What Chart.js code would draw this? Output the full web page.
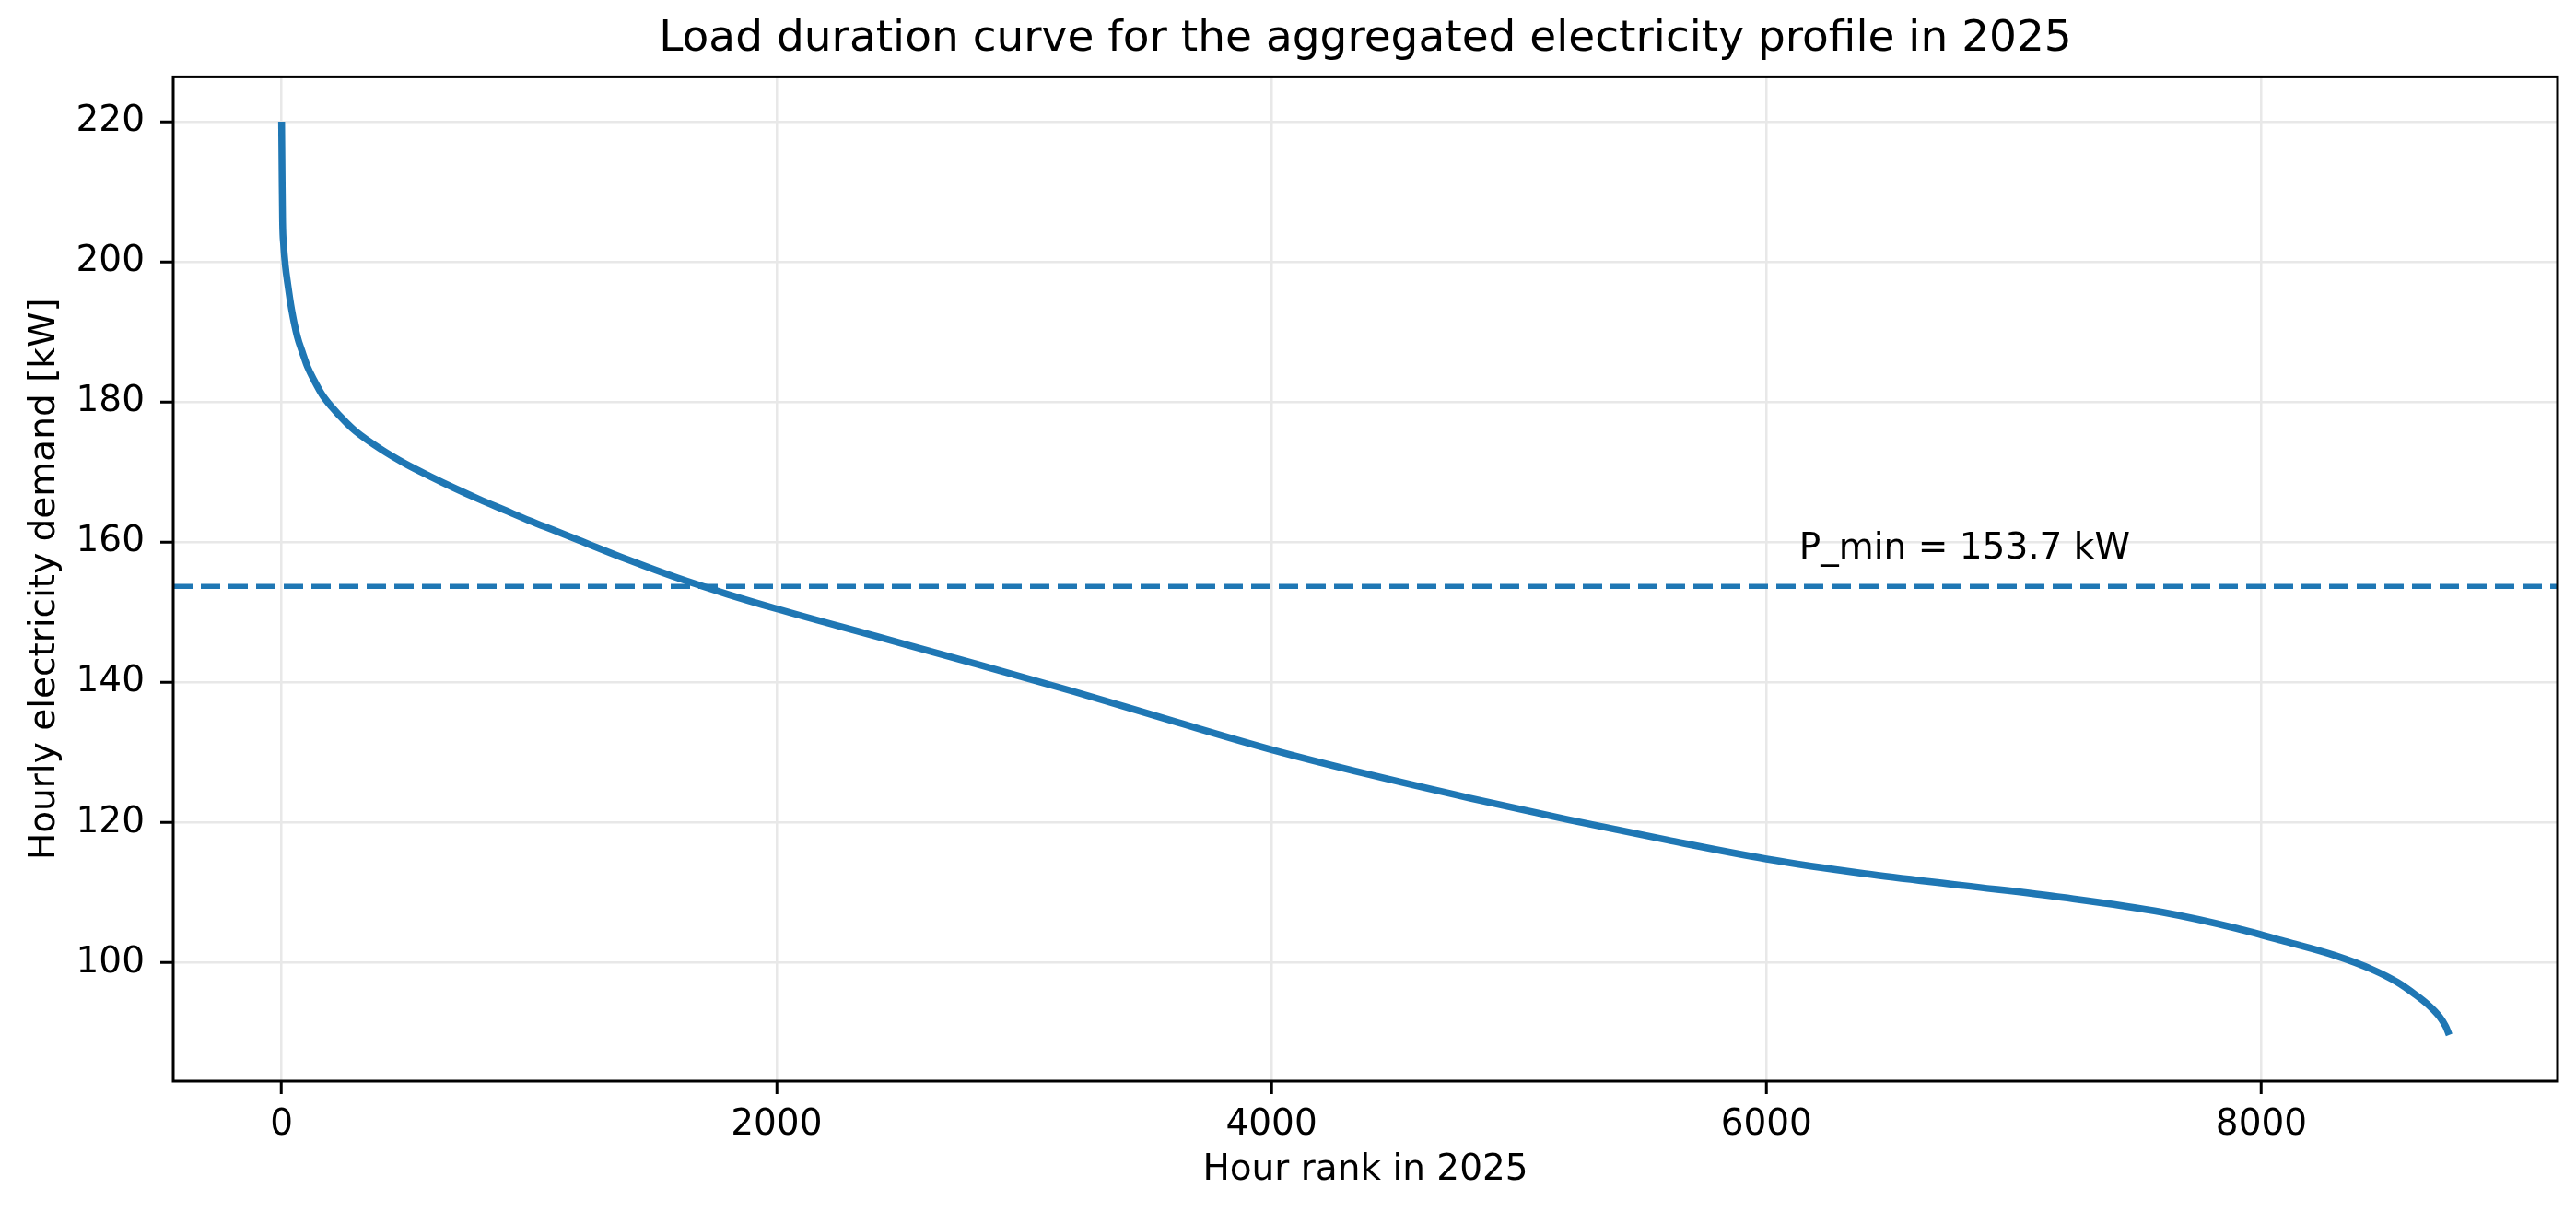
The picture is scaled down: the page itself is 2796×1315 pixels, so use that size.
<!DOCTYPE html>
<html lang="en">
<head>
<meta charset="UTF-8">
<title>Load duration curve</title>
<script src="https://cdn.jsdelivr.net/npm/chart.js"></script>
<style>
  html, body { margin: 0; padding: 0; background: #fff; }
  canvas { display: block; }
</style>
</head>
<body>
<canvas id="ldc" width="2796" height="1315"></canvas>
<script>
// Hour rank (sorted hours) and demand
const hourRank = [0, 2, 4, 8, 15, 25, 40, 63, 85, 105, 130, 163, 200, 263, 300, 400, 500, 600, 700, 800, 900,
  1000, 1100, 1200, 1400, 1600, 1800, 2000, 2400, 2800, 3200, 3600, 4000, 4400, 4800,
  5200, 5600, 6000, 6400, 6800, 7200, 7600, 7900, 8100, 8300, 8450, 8550, 8620, 8680, 8720, 8745, 8759];
const demandKW = [220, 212, 205.6, 202.5, 199.5, 196.8, 193.3, 189.4, 187, 185, 183.2, 181.1, 179.4, 177, 175.8, 173.3, 171.2, 169.4, 167.7, 166.1, 164.6,
  163.1, 161.7, 160.3, 157.5, 154.9, 152.6, 150.5, 146.6, 142.7, 138.7, 134.5, 130.4, 126.8, 123.5,
  120.4, 117.5, 114.8, 112.7, 111, 109.3, 107.2, 104.9, 103, 101, 99, 97.2, 95.5, 93.8, 92.3, 90.9, 89.7];

const pMin = 153.7;
const xTicks = [0, 2000, 4000, 6000, 8000];
const yTicks = [100, 120, 140, 160, 180, 200, 220];
const xLimits = [-438, 9197];
const yLimits = [83.1, 226.4];
const pMinLabel = { x: 6132, y: 157.7, text: 'P_min = 153.7 kW' };

const FONT = 'DejaVu Sans';
const BLUE = '#1f77b4';

const curve = hourRank.map((h, i) => ({ x: h, y: demandKW[i] }));
const pMinLine = xLimits.map(x => ({ x: x, y: pMin }));

// frame around the plot area + the P_min text
const frameAndLabel = {
  id: 'frameAndLabel',
  afterDatasetsDraw(chart) {
    const { ctx, chartArea: a, scales } = chart;
    ctx.save();
    ctx.fillStyle = '#000';
    ctx.font = '39px "' + FONT + '"';
    ctx.textAlign = 'left';
    ctx.textBaseline = 'alphabetic';
    ctx.fillText(pMinLabel.text, scales.x.getPixelForValue(pMinLabel.x), scales.y.getPixelForValue(pMinLabel.y));
    ctx.strokeStyle = '#000';
    ctx.lineWidth = 3;
    ctx.strokeRect(a.left, a.top, a.right - a.left, a.bottom - a.top);
    ctx.restore();
  }
};

new Chart(document.getElementById('ldc'), {
  type: 'line',
  data: {
    datasets: [
      {
        data: curve,
        borderColor: BLUE,
        borderWidth: 7.5,
        pointRadius: 0,
        cubicInterpolationMode: 'monotone',
        fill: false
      },
      {
        data: pMinLine,
        borderColor: BLUE,
        borderWidth: 5.5,
        borderDash: [21, 9],
        pointRadius: 0,
        fill: false
      }
    ]
  },
  options: {
    responsive: false,
    animation: false,
    events: [],
    layout: { padding: { left: 0, right: 20, top: 0, bottom: 0 } },
    plugins: {
      legend: { display: false },
      tooltip: { enabled: false },
      title: {
        display: true,
        fullSize: false,
        text: 'Load duration curve for the aggregated electricity profile in 2025',
        color: '#000',
        font: { family: FONT, size: 47, weight: 'normal' },
        padding: { top: 15, bottom: 12 }
      }
    },
    scales: {
      x: {
        type: 'linear',
        min: xLimits[0],
        max: xLimits[1],
        afterBuildTicks: s => { s.ticks = xTicks.map(v => ({ value: v })); },
        afterFit: s => { s.height = 142; },
        ticks: { color: '#000', font: { family: FONT, size: 39 }, padding: 10, maxRotation: 0, callback: v => String(v) },
        grid: { color: '#e8e8e8', lineWidth: 2.5, tickColor: '#000', tickLength: 14, tickWidth: 3 },
        border: { display: false },
        title: {
          display: true,
          text: 'Hour rank in 2025',
          color: '#000',
          font: { family: FONT, size: 39 },
          padding: { top: 0, bottom: 22 }
        }
      },
      y: {
        type: 'linear',
        min: yLimits[0],
        max: yLimits[1],
        afterBuildTicks: s => { s.ticks = yTicks.map(v => ({ value: v })); },
        afterFit: s => { s.width = 188; },
        ticks: { color: '#000', font: { family: FONT, size: 39 }, padding: 17, callback: v => String(v) },
        grid: { color: '#e8e8e8', lineWidth: 2.5, tickColor: '#000', tickLength: 14, tickWidth: 3 },
        border: { display: false },
        title: {
          display: true,
          text: 'Hourly electricity demand [kW]',
          color: '#000',
          font: { family: FONT, size: 39 },
          padding: { top: 25, bottom: 0 }
        }
      }
    }
  },
  plugins: [frameAndLabel]
});
</script>
</body>
</html>
